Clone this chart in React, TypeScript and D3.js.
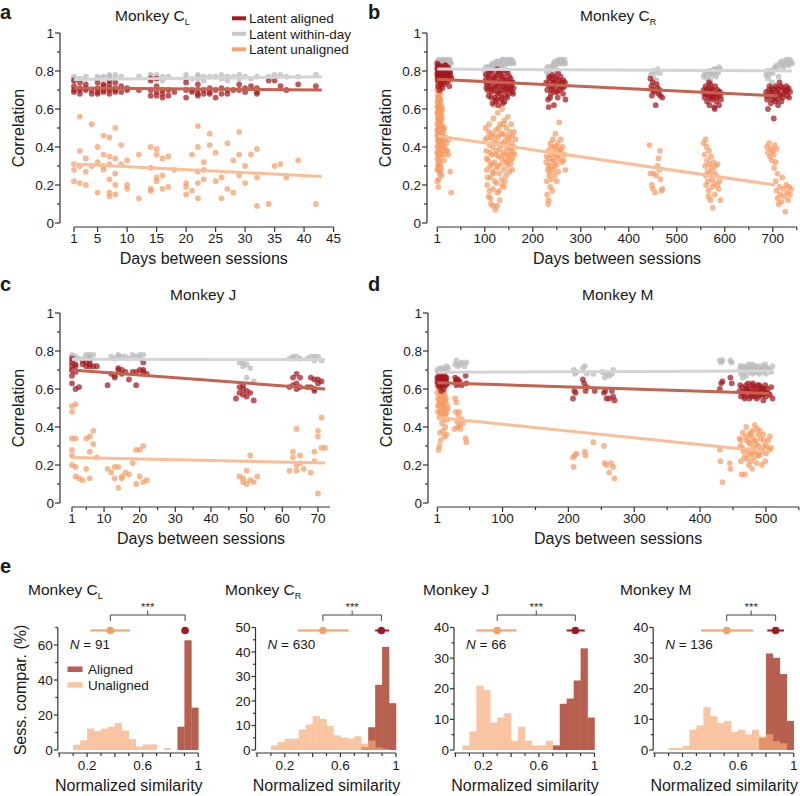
import React from "react";
import * as d3 from "d3";

type Pt = [number, number];

const FONT = "'Liberation Sans', Arial, Helvetica, sans-serif";
const AX = "#333";

// scatter colours
const DOT_AL = "#a3191e";
const DOT_WD = "#b9bbbd";
const DOT_UN = "#f59a63";
const LINE_AL = "#c46450";
const LINE_WD = "#d3d4d5";
const LINE_UN = "#fbbd95";

// histogram colours
const BAR_AL = "#b8604f";
const BAR_UN = "#f8a977";
const MEAN_AL = "#a11a22";
const MEAN_UN = "#f7a063";

// ---------- Monkey C_L (panel a) ----------
const clAligned: Pt[] = [
  [1, .75], [1, .72], [1, .70], [1, .69], [2, .74], [2, .71], [2, .70], [2, .68], [3, .73], [3, .71], [3, .70],
  [4, .70], [4, .68], [5, .74], [5, .71], [5, .69], [5, .68], [6, .73], [6, .72], [6, .70], [6, .69],
  [7, .75], [7, .73], [7, .71], [7, .70], [7, .68], [8, .74], [8, .71], [8, .70], [8, .69], [9, .72], [9, .69],
  [10, .71], [10, .70], [12, .70], [14, .76], [14, .75], [14, .70], [14, .67], [15, .76], [15, .72], [15, .69], [15, .67],
  [16, .70], [16, .68], [16, .66], [17, .70], [17, .67], [18, .69], [20, .74], [20, .70], [20, .66], [21, .70], [21, .69],
  [22, .73], [22, .70], [22, .68], [22, .67], [23, .70], [23, .68], [24, .71], [24, .69], [24, .68], [25, .70], [25, .66],
  [26, .71], [26, .68], [27, .70], [27, .68], [28, .70], [29, .73], [29, .70], [30, .71], [30, .69], [31, .72],
  [32, .71], [32, .69], [32, .68], [34, .75], [35, .75], [36, .72], [37, .70], [39, .73], [42, .72],
];
const clWithin: Pt[] = [
  [1, .77], [1, .75], [2, .76], [3, .77], [5, .77], [5, .76], [6, .77], [6, .76], [7, .78], [7, .77], [7, .75],
  [8, .78], [8, .76], [9, .77], [12, .77], [14, .78], [14, .77], [15, .78], [15, .76], [16, .77], [16, .75], [17, .77],
  [20, .78], [20, .76], [21, .76], [22, .78], [22, .77], [22, .76], [23, .77], [23, .75], [24, .77], [25, .77],
  [26, .78], [26, .76], [27, .77], [27, .75], [28, .77], [29, .78], [29, .76], [30, .77], [31, .76], [32, .77],
  [34, .77], [35, .78], [36, .78], [37, .77], [39, .77], [42, .78],
];
const clUnaligned: Pt[] = [
  [1, .31], [1, .28], [1, .22], [2, .56], [2, .38], [2, .30], [2, .21], [3, .34], [3, .27], [3, .20], [4, .52], [4, .30],
  [5, .40], [5, .32], [5, .16], [6, .46], [6, .36], [6, .30], [6, .28], [7, .45], [7, .35], [7, .31], [7, .23], [7, .16], [7, .14],
  [8, .50], [8, .34], [8, .26], [8, .20], [8, .15], [9, .41], [9, .31], [10, .33], [10, .20], [10, .18], [12, .36], [12, .13],
  [14, .40], [14, .29], [14, .18], [14, .17], [15, .39], [15, .36], [15, .24], [15, .22], [16, .34], [16, .25], [16, .18],
  [17, .35], [17, .19], [18, .28], [20, .21], [20, .19], [20, .15], [21, .36], [21, .17], [22, .51], [22, .40], [22, .27],
  [22, .21], [22, .13], [23, .32], [23, .28], [23, .23], [24, .47], [24, .41], [25, .37], [25, .22], [26, .24], [26, .13],
  [27, .42], [27, .18], [28, .33], [28, .16], [29, .48], [29, .36], [29, .25], [30, .30], [30, .21], [31, .36], [32, .39],
  [32, .24], [32, .09], [34, .10], [35, .30], [36, .31], [37, .24], [39, .33], [42, .10],
];
const clFitAligned: Pt[] = [[1, .71], [43, .70]];
const clFitWithin: Pt[] = [[1, .755], [43, .77]];
const clFitUnaligned: Pt[] = [[1, .31], [43, .245]];

// ---------- Monkey C_R (panel b) ----------
const crAligned: Pt[] = [
  [1, .84], [2, .82], [3, .80], [1, .78], [4, .77], [2, .75], [5, .83], [6, .81], [7, .79], [8, .78], [9, .76], [10, .74],
  [11, .82], [12, .80], [13, .77], [14, .75], [15, .73], [16, .81], [17, .79], [18, .78], [19, .76], [20, .74], [21, .80],
  [22, .78], [24, .77], [25, .75], [26, .72], [28, .79], [30, .76], [3, .72], [6, .70], [8, .73], [12, .71], [18, .83],
  [23, .82], [27, .80], [4, .80], [2, .79],
  [1, .81], [2, .77], [3, .83], [5, .79], [6, .76], [7, .82], [9, .80], [10, .78], [11, .77], [13, .81], [14, .79],
  [16, .76], [17, .83], [19, .80], [20, .78], [21, .76], [23, .79], [25, .81], [26, .78], [29, .77],
  [102, .78], [105, .74], [106, .70], [108, .67], [110, .76], [112, .72], [114, .69], [115, .80], [118, .75], [120, .71],
  [121, .66], [122, .64], [124, .78], [125, .73], [127, .69], [128, .62], [130, .76], [131, .72], [133, .68], [134, .65],
  [136, .80], [137, .74], [139, .70], [140, .77], [142, .73], [143, .67], [145, .75], [146, .71], [148, .79], [149, .68],
  [150, .74], [152, .70], [154, .76], [155, .72], [157, .69], [158, .74], [160, .71], [116, .63], [126, .81], [138, .63],
  [111, .79], [119, .77], [132, .79], [144, .80], [135, .66], [103, .71], [141, .64],
  [101, .75], [104, .73], [107, .77], [109, .71], [113, .74], [117, .70], [120, .76], [123, .72], [126, .68], [129, .74],
  [132, .70], [135, .77], [138, .72], [141, .75], [144, .70], [147, .73], [151, .77], [153, .71], [156, .74], [159, .68],
  [113, .66], [125, .65], [147, .66], [107, .80], [129, .79],
  [228, .74], [230, .70], [232, .65], [233, .61], [235, .77], [237, .72], [238, .68], [240, .75], [242, .71], [244, .62],
  [245, .74], [247, .69], [249, .76], [250, .72], [252, .66], [254, .73], [256, .70], [258, .77], [260, .74], [262, .71],
  [264, .75], [266, .72], [268, .65], [241, .78], [253, .79], [236, .66],
  [231, .73], [234, .76], [239, .70], [243, .74], [246, .77], [251, .69], [255, .75], [259, .72], [263, .68], [267, .74],
  [445, .76], [447, .72], [448, .67], [450, .74], [452, .70], [454, .69], [456, .62], [458, .73], [460, .71], [462, .68],
  [464, .70], [466, .67], [470, .66], [449, .70],
  [556, .70], [558, .66], [560, .72], [561, .68], [563, .64], [565, .71], [566, .67], [568, .62], [570, .73], [571, .69],
  [573, .65], [575, .70], [576, .66], [578, .61], [580, .72], [581, .68], [583, .64], [585, .70], [586, .67], [588, .62],
  [590, .69], [592, .65], [567, .74], [579, .60], [574, .67],
  [557, .68], [562, .70], [569, .66], [572, .71], [577, .68], [582, .66], [587, .69], [591, .67],
  [686, .69], [688, .65], [690, .60], [692, .70], [694, .67], [696, .63], [698, .71], [700, .68], [702, .55], [704, .66],
  [706, .72], [708, .69], [710, .65], [712, .70], [714, .74], [716, .67], [718, .64], [720, .71], [722, .68], [725, .70],
  [728, .72], [730, .67], [733, .71], [736, .69], [699, .65], [711, .62],
  [687, .67], [693, .72], [697, .69], [701, .70], [705, .64], [709, .71], [713, .68], [717, .72], [721, .66], [726, .69],
  [731, .70], [734, .66],
];
const crWithin: Pt[] = [
  [2, .85], [5, .84], [8, .83], [10, .85], [12, .86], [15, .84], [18, .85], [20, .83], [22, .86], [25, .84], [28, .85],
  [14, .81], [6, .82], [24, .82], [1, .84], [4, .86], [7, .85], [11, .84], [16, .86], [19, .84], [23, .85], [27, .86], [30, .84],
  [100, .80], [103, .78], [106, .82], [110, .80], [114, .83], [118, .81], [122, .84], [126, .82], [130, .85], [134, .83],
  [138, .86], [142, .84], [146, .85], [150, .86], [154, .84], [158, .85], [108, .77], [128, .80], [140, .82],
  [102, .82], [112, .82], [116, .84], [120, .83], [124, .85], [132, .84], [136, .86], [144, .86], [148, .84], [152, .85],
  [156, .86], [160, .84],
  [228, .80], [232, .78], [236, .82], [240, .81], [244, .84], [248, .83], [252, .85], [256, .84], [260, .86], [264, .85],
  [268, .84], [238, .77], [250, .80], [230, .82], [234, .80], [242, .83], [246, .85], [254, .86], [258, .85], [262, .84], [266, .86],
  [446, .78], [450, .80], [455, .79], [460, .81], [465, .79], [452, .76], [458, .75],
  [556, .77], [560, .79], [564, .76], [568, .78], [572, .80], [576, .79], [580, .81], [584, .80], [588, .82], [570, .75], [582, .77],
  [558, .78], [566, .80], [574, .78], [578, .81], [586, .79], [590, .81],
  [686, .78], [690, .76], [695, .80], [700, .79], [705, .82], [710, .81], [715, .84], [720, .83], [725, .85], [730, .84],
  [735, .86], [740, .84], [698, .74], [712, .77], [688, .80], [692, .78], [702, .81], [708, .83], [718, .85], [722, .82],
  [728, .86], [733, .83], [738, .85],
];
const crUnaligned: Pt[] = [
  [1, .82], [1, .76], [1, .70], [1, .64], [1, .58], [1, .52], [1, .46], [1, .40], [1, .34], [2, .79], [2, .73], [2, .67],
  [2, .61], [2, .55], [2, .49], [2, .43], [2, .37], [2, .30], [3, .77], [3, .71], [3, .62], [3, .56], [3, .47], [3, .41],
  [3, .32], [3, .19], [4, .74], [4, .66], [4, .59], [4, .50], [4, .44], [4, .35], [4, .28], [5, .78], [5, .69], [5, .63],
  [5, .53], [5, .45], [5, .38], [5, .30], [6, .72], [6, .60], [6, .51], [6, .42], [6, .33], [6, .26], [7, .68], [7, .57],
  [7, .48], [7, .39], [7, .31], [8, .65], [8, .54], [8, .44], [8, .36], [8, .27], [9, .62], [9, .50], [9, .40], [9, .29],
  [10, .58], [10, .47], [10, .36], [10, .25], [11, .55], [12, .50], [12, .42], [13, .38], [14, .48], [15, .44], [15, .33],
  [16, .40], [17, .36], [18, .45], [20, .42], [22, .38], [25, .44], [28, .27], [30, .16], [1, .22], [4, .23],
  [1, .79], [1, .61], [1, .49], [1, .37], [1, .28], [2, .70], [2, .58], [2, .46], [3, .74], [3, .65], [3, .53], [3, .44],
  [4, .71], [4, .62], [4, .54], [5, .75], [5, .66], [5, .58], [5, .49], [6, .69], [6, .55], [6, .46], [7, .64], [7, .52],
  [7, .43], [8, .60], [8, .49], [9, .56], [9, .45], [10, .52], [10, .41], [11, .47], [12, .60], [13, .45], [14, .40],
  [16, .50], [19, .38], [24, .36],
  [102, .50], [103, .38], [104, .28], [105, .20], [106, .45], [107, .33], [108, .14], [109, .52], [110, .41], [111, .30],
  [112, .24], [113, .10], [114, .47], [115, .36], [116, .27], [117, .18], [118, .55], [119, .43], [120, .32], [121, .22],
  [122, .07], [123, .49], [124, .38], [125, .29], [126, .16], [127, .58], [128, .45], [129, .35], [130, .26], [131, .12],
  [132, .52], [133, .41], [134, .31], [135, .23], [136, .60], [137, .47], [138, .37], [139, .28], [140, .19], [141, .54],
  [142, .43], [143, .33], [144, .25], [145, .50], [146, .39], [147, .30], [148, .56], [149, .44], [150, .35], [151, .27],
  [152, .48], [153, .38], [154, .31], [155, .52], [156, .42], [157, .34], [158, .46], [160, .40], [162, .36], [164, .44],
  [119, .62], [126, .09], [110, .17],
  [101, .44], [104, .34], [106, .24], [108, .48], [111, .37], [113, .45], [115, .31], [117, .40], [119, .26], [121, .46],
  [123, .36], [125, .42], [127, .30], [129, .50], [131, .39], [133, .47], [135, .34], [137, .42], [139, .52], [141, .36],
  [143, .46], [145, .32], [147, .41], [149, .36], [151, .45], [153, .33], [155, .40], [157, .28], [159, .37], [161, .48],
  [112, .13], [118, .09], [124, .21], [130, .17], [136, .20], [142, .22],
  [228, .32], [229, .22], [230, .15], [231, .28], [232, .38], [233, .12], [234, .25], [235, .34], [236, .19], [237, .42],
  [238, .30], [239, .23], [240, .36], [241, .17], [242, .44], [243, .28], [244, .33], [245, .40], [246, .25], [247, .47],
  [248, .36], [250, .31], [252, .42], [254, .38], [255, .53], [256, .34], [258, .44], [260, .37], [262, .40], [264, .33],
  [266, .36], [268, .28], [250, .22], [232, .10],
  [229, .35], [233, .30], [236, .27], [238, .40], [241, .33], [244, .37], [246, .30], [249, .40], [251, .35], [253, .27],
  [257, .39], [261, .32],
  [443, .41], [445, .26], [448, .20], [450, .18], [452, .26], [455, .16], [460, .30], [462, .34], [464, .28], [465, .38],
  [466, .23], [468, .17], [470, .18], [457, .25],
  [556, .42], [558, .36], [559, .30], [560, .25], [561, .20], [562, .40], [563, .33], [564, .27], [565, .22], [566, .17],
  [567, .38], [568, .31], [569, .26], [570, .12], [571, .35], [572, .29], [573, .23], [574, .19], [575, .08], [576, .32],
  [577, .27], [578, .21], [579, .15], [580, .30], [582, .25], [584, .20], [585, .31], [587, .18], [589, .22], [591, .12],
  [560, .44], [566, .14],
  [688, .40], [690, .37], [692, .42], [694, .35], [696, .39], [698, .33], [700, .38], [702, .36], [704, .41], [706, .32],
  [703, .29], [708, .39], [706, .22], [708, .17], [710, .13], [712, .10], [714, .19], [716, .15], [718, .11], [720, .24],
  [722, .18], [724, .14], [726, .06], [728, .20], [730, .16], [732, .12], [734, .19], [736, .15], [738, .18], [710, .26],
];
const crFitAligned: Pt[] = [[1, .756], [705, .67]];
const crFitWithin: Pt[] = [[1, .81], [740, .80]];
const crFitUnaligned: Pt[] = [[1, .458], [705, .20]];

// ---------- Monkey J (panel c) ----------
const jAligned: Pt[] = [
  [1, .76], [1, .74], [1, .72], [1, .70], [1, .67], [1, .63], [2, .73], [2, .72], [2, .69], [2, .60], [3, .61], [4, .75],
  [4, .73], [5, .74], [5, .72], [6, .75], [6, .73], [6, .72], [7, .72], [8, .72], [11, .62], [12, .68], [13, .67], [13, .66],
  [14, .71], [14, .70], [15, .70], [15, .68], [16, .69], [17, .65], [18, .69], [19, .62], [19, .69], [20, .70], [21, .74],
  [21, .70], [21, .69], [22, .68], [47, .55], [48, .61], [48, .58], [49, .62], [49, .60], [49, .57], [50, .59], [50, .56],
  [51, .58], [52, .54], [62, .61], [63, .66], [63, .62], [64, .68], [64, .63], [64, .60], [65, .66], [65, .61], [67, .61],
  [68, .66], [68, .61], [69, .65], [69, .60], [69, .59], [70, .65], [70, .63], [71, .64],
];
const jWithin: Pt[] = [
  [1, .78], [1, .77], [1, .75], [1, .70], [2, .77], [2, .76], [3, .76], [5, .78], [5, .77], [6, .78], [6, .77], [7, .78],
  [12, .77], [13, .76], [14, .78], [14, .77], [15, .77], [16, .77], [17, .76], [18, .78], [19, .77], [20, .78], [20, .76],
  [21, .78], [48, .74], [49, .74], [49, .72], [50, .73], [50, .66], [51, .71], [52, .64], [62, .76], [63, .77], [63, .76],
  [64, .77], [65, .76], [67, .76], [68, .77], [69, .77], [69, .75], [70, .77], [71, .75],
];
const jUnaligned: Pt[] = [
  [1, .51], [1, .48], [1, .34], [1, .28], [1, .25], [1, .20], [2, .52], [2, .34], [2, .19], [2, .14], [3, .13], [4, .12],
  [5, .34], [5, .18], [6, .35], [6, .27], [6, .13], [7, .38], [7, .31], [8, .24], [11, .18], [12, .16], [13, .19], [13, .13],
  [14, .19], [14, .08], [15, .14], [15, .13], [16, .16], [17, .15], [18, .21], [19, .28], [19, .10], [20, .28], [20, .14],
  [21, .30], [21, .11], [22, .12], [48, .14], [49, .13], [49, .11], [50, .17], [50, .10], [51, .25], [51, .12], [52, .11],
  [53, .14], [62, .17], [63, .27], [63, .24], [64, .39], [64, .20], [64, .17], [65, .25], [65, .21], [66, .18], [68, .16],
  [69, .27], [69, .22], [70, .38], [70, .35], [70, .05], [71, .45], [71, .29], [72, .29],
];
const jFitAligned: Pt[] = [[1, .70], [72, .60]];
const jFitWithin: Pt[] = [[1, .757], [72, .755]];
const jFitUnaligned: Pt[] = [[1, .24], [72, .21]];

// ---------- Monkey M (panel d) ----------
const mAligned: Pt[] = [
  [1, .66], [2, .63], [3, .65], [4, .61], [5, .67], [6, .64], [7, .62], [8, .66], [9, .63], [10, .65], [11, .60], [12, .67],
  [13, .64], [14, .62], [15, .66], [16, .63], [28, .66], [29, .64], [30, .62], [32, .65], [33, .63], [35, .64], [38, .62],
  [44, .67], [45, .63], [7, .59],
  [1, .64], [2, .66], [3, .62], [4, .65], [5, .63], [6, .66], [8, .64], [9, .66], [10, .62], [11, .65], [12, .63], [13, .66],
  [14, .65], [15, .63], [30, .65], [31, .64],
  [207, .55], [209, .59], [211, .58], [222, .65], [224, .63], [226, .59], [228, .61], [240, .59], [254, .58], [256, .59],
  [258, .55], [262, .55], [266, .59], [268, .56], [270, .54],
  [430, .60], [432, .63], [434, .64], [446, .66], [448, .63], [460, .59], [462, .56], [464, .61], [466, .58], [468, .55],
  [470, .62], [472, .59], [474, .57], [476, .60], [478, .56], [480, .63], [482, .58], [484, .61], [486, .55], [488, .59],
  [490, .62], [492, .57], [494, .60], [496, .54], [498, .58], [500, .56], [503, .58], [506, .57], [508, .61], [510, .55],
  [469, .60], [479, .62],
  [461, .62], [463, .58], [467, .56], [471, .60], [473, .63], [475, .55], [477, .58], [481, .60], [483, .56], [485, .58],
  [487, .62], [489, .56], [491, .59], [493, .61], [495, .57], [497, .60], [499, .62], [502, .60],
];
const mWithin: Pt[] = [
  [1, .70], [3, .69], [5, .71], [7, .70], [9, .69], [11, .71], [13, .70], [15, .72], [17, .71], [28, .73], [30, .75],
  [32, .72], [35, .73], [38, .74], [42, .72], [45, .74], [2, .68], [10, .67],
  [208, .70], [210, .68], [212, .69], [222, .71], [225, .72], [228, .68], [238, .68], [252, .69], [255, .66], [258, .68],
  [262, .67], [266, .68], [268, .70],
  [430, .75], [432, .74], [434, .75], [446, .75], [448, .74], [460, .70], [462, .68], [464, .72], [466, .69], [468, .71],
  [470, .67], [472, .70], [474, .73], [476, .69], [478, .71], [480, .68], [482, .72], [484, .70], [486, .69], [488, .71],
  [490, .68], [492, .70], [494, .72], [496, .69], [498, .71], [500, .68], [505, .70], [508, .69], [510, .72], [465, .66],
  [461, .72], [467, .70], [471, .72], [475, .70], [479, .73], [483, .69], [487, .72], [491, .70], [495, .70], [499, .73], [503, .71],
];
const mUnaligned: Pt[] = [
  [1, .62], [2, .55], [2, .48], [3, .52], [3, .28], [4, .30], [4, .45], [5, .57], [5, .37], [6, .50], [6, .33], [7, .60],
  [7, .47], [8, .53], [8, .42], [9, .56], [9, .46], [10, .51], [10, .38], [11, .58], [11, .44], [12, .49], [12, .35],
  [13, .54], [13, .40], [14, .47], [15, .52], [15, .36], [16, .44], [17, .50], [28, .55], [29, .48], [30, .53], [31, .43],
  [32, .40], [33, .46], [35, .41], [36, .39], [38, .44], [40, .42], [44, .34], [45, .32], [27, .39], [34, .48],
  [1, .58], [2, .51], [3, .60], [4, .54], [5, .48], [6, .56], [7, .53], [8, .58], [9, .50], [10, .55], [11, .52], [12, .57],
  [13, .47], [14, .55], [15, .49],
  [207, .24], [208, .19], [210, .25], [212, .26], [225, .27], [226, .25], [238, .32], [254, .30], [255, .21], [258, .20],
  [262, .16], [265, .21], [268, .19], [270, .13],
  [430, .28], [431, .22], [434, .11], [445, .21], [446, .18], [460, .34], [461, .30], [462, .22], [463, .15], [465, .37],
  [466, .27], [467, .24], [468, .15], [470, .40], [471, .33], [472, .28], [473, .25], [474, .20], [475, .36], [476, .31],
  [477, .26], [478, .22], [479, .18], [480, .38], [481, .29], [482, .24], [483, .41], [484, .33], [485, .27], [486, .21],
  [488, .36], [489, .30], [490, .25], [492, .34], [493, .28], [494, .20], [496, .36], [498, .30], [500, .26], [503, .33],
  [505, .28], [508, .29], [487, .39], [478, .35],
  [462, .33], [464, .29], [469, .35], [471, .23], [474, .32], [477, .37], [480, .27], [482, .33], [485, .31], [488, .25],
  [491, .38], [495, .27], [497, .33], [501, .30], [506, .35], [499, .22],
];
const mFitAligned: Pt[] = [[1, .633], [505, .577]];
const mFitWithin: Pt[] = [[1, .688], [510, .695]];
const mFitUnaligned: Pt[] = [[1, .45], [505, .27]];

// ---------- histograms (panel e), bins of 0.05 from 0 to 1, % of comparisons ----------
const clHistUnaligned = [0, 0, 3, 5.5, 12.2, 11, 12.2, 13.3, 15.4, 11, 6.3, 2, 3.2, 3.2, 0, 1.1, 0, 0, 0, 0];
const clHistAligned = [0, 0, 0, 0, 0, 0, 0, 0, 0, 0, 0, 0, 0, 0, 0, 0, 0, 13.3, 62.7, 24.2];
const crHistUnaligned = [0, 0, 1.9, 3.3, 4.6, 4.6, 8.4, 10.4, 13.8, 12.7, 9.8, 6, 5.1, 4.7, 5.6, 2.6, 3.9, 1, 0.5, 0];
const crHistAligned = [0, 0, 0, 0, 0, 0, 0, 0, 0, 0, 0, 0, 0, 0, 0, 1.2, 9.3, 26.6, 42.1, 19.1];
const jHistUnaligned = [0, 1.5, 6.1, 21, 19.6, 9, 10.6, 12, 3, 7.6, 3, 1.5, 1.5, 3, 0, 0, 0, 0, 0, 0];
const jHistAligned = [0, 0, 0, 0, 0, 0, 0, 0, 0, 0, 0, 0, 0, 0, 1.5, 15.1, 16.8, 22.7, 33.2, 10.6];
const mHistUnaligned = [0, 0, 0.65, 0.65, 1.4, 6.6, 8, 14, 11, 8.8, 9.5, 5.9, 6.6, 5.1, 6.6, 4.4, 5.2, 2.9, 2.2, 0];
const mHistAligned = [0, 0, 0, 0, 0, 0, 0, 0, 0, 0, 0, 0, 0, 0, 0, 4, 31.5, 30.1, 24.8, 9.5];

// mean and spread markers: [mean, low, high]
const clMeans = { un: [0.367, 0.224, 0.51], al: [0.905, 0.885, 0.925] };
const crMeans = { un: [0.474, 0.295, 0.66], al: [0.895, 0.85, 0.95] };
const jMeans = { un: [0.30, 0.15, 0.44], al: [0.862, 0.80, 0.93] };
const mMeans = { un: [0.518, 0.333, 0.709], al: [0.87, 0.81, 0.93] };

interface ScatterSpec {
  letter: string; lx: number; ly: number;
  title: string; sub?: string; tx: number; ty: number;
  axX: number; x0: number; kx: number; xMax: number;
  yB: number; xAxY: number;
  ticks: number[]; minor: number[];
  aligned: Pt[]; within: Pt[]; unaligned: Pt[];
  fitA: Pt[]; fitW: Pt[]; fitU: Pt[];
  legend?: boolean;
}

const Scatter = ({ s }: { s: ScatterSpec }) => {
  const x = d3.scaleLinear().domain([0, s.xMax]).range([s.x0, s.x0 + s.xMax * s.kx]);
  const y = d3.scaleLinear().domain([0, 1]).range([s.yB, s.yB - 190]);
  const line = d3.line<Pt>().x((d) => x(d[0])).y((d) => y(d[1]));
  const yMajor = [0, 0.2, 0.4, 0.6, 0.8, 1];
  const yMinor = [0.1, 0.3, 0.5, 0.7, 0.9];
  const dots = (pts: Pt[], fill: string, op: number) =>
    pts.map((d, i) => <circle key={i} cx={x(d[0])} cy={y(d[1])} r={2.9} fill={fill} fillOpacity={op} />);
  const xMid = (x(1) + x(s.xMax)) / 2;
  return (
    <g>
      <text x={s.lx} y={s.ly} fontSize={20} fontWeight="bold">{s.letter}</text>
      <text x={s.tx} y={s.ty} fontSize={15.5}>
        {s.title}
        {s.sub && <tspan fontSize={9} dy={4}>{s.sub}</tspan>}
      </text>
      {/* y axis */}
      <line x1={s.axX} x2={s.axX} y1={y(0)} y2={y(1)} stroke={AX} strokeWidth={1.2} />
      {yMajor.map((v) => (
        <g key={v}>
          <line x1={s.axX - 5} x2={s.axX} y1={y(v)} y2={y(v)} stroke={AX} strokeWidth={1.2} />
          <text x={s.axX - 6} y={y(v)} dy="0.35em" textAnchor="end" fontSize={13.5}>{String(+v.toFixed(1))}</text>
        </g>
      ))}
      {yMinor.map((v) => (
        <line key={v} x1={s.axX - 3} x2={s.axX} y1={y(v)} y2={y(v)} stroke={AX} strokeWidth={1.2} />
      ))}
      <text transform={`translate(${s.axX - 36},${y(0.5)}) rotate(-90)`} textAnchor="middle" fontSize={16}>Correlation</text>
      {/* x axis */}
      <line x1={x(1)} x2={x(s.xMax)} y1={s.xAxY} y2={s.xAxY} stroke={AX} strokeWidth={1.2} />
      {s.ticks.map((v) => (
        <g key={v}>
          <line x1={x(v)} x2={x(v)} y1={s.xAxY} y2={s.xAxY + 5} stroke={AX} strokeWidth={1.2} />
          <text x={x(v)} y={s.xAxY + 16} textAnchor="middle" fontSize={13.5}>{v}</text>
        </g>
      ))}
      {s.minor.map((v) => (
        <line key={v} x1={x(v)} x2={x(v)} y1={s.xAxY} y2={s.xAxY + 3} stroke={AX} strokeWidth={1.2} />
      ))}
      <text x={xMid} y={s.xAxY + 37} textAnchor="middle" fontSize={16}>Days between sessions</text>
      {/* points */}
      <g>{dots(s.within, DOT_WD, 0.75)}</g>
      <g>{dots(s.unaligned, DOT_UN, 0.7)}</g>
      <g>{dots(s.aligned, DOT_AL, 0.72)}</g>
      {/* fits */}
      <path d={line(s.fitU) || ""} stroke={LINE_UN} strokeWidth={3} fill="none" />
      <path d={line(s.fitW) || ""} stroke={LINE_WD} strokeWidth={3} fill="none" />
      <path d={line(s.fitA) || ""} stroke={LINE_AL} strokeWidth={3} fill="none" />
      {s.legend && (
        <g fontSize={13.5}>
          {[
            ["Latent aligned", "#a51c20"],
            ["Latent within-day", "#c6c7c8"],
            ["Latent unaligned", "#f8a472"],
          ].map(([t, c], i) => (
            <g key={t} transform={`translate(0,${18.3 + i * 15.5})`}>
              <line x1={232} x2={246} y1={0} y2={0} stroke={c} strokeWidth={4} />
              <text x={249} y={0} dy="0.35em">{t}</text>
            </g>
          ))}
        </g>
      )}
    </g>
  );
};

interface HistSpec {
  title: string; sub?: string; tx: number;
  x0: number; yMax: number; yMajor: number[]; yMinor: number[];
  n: number; un: number[]; al: number[];
  means: { un: number[]; al: number[] };
  first?: boolean;
}

const BIN = 0.05;
const Hist = ({ h }: { h: HistSpec }) => {
  const x = d3.scaleLinear().domain([0, 1]).range([h.x0, h.x0 + 139]);
  const y = d3.scaleLinear().domain([0, h.yMax]).range([750, 627.5]);
  const bars = (vals: number[], fill: string, op: number) =>
    vals.map((v, i) =>
      v > 0 ? (
        <rect key={i} x={x(i * BIN)} width={x(BIN) - x(0) + 0.3} y={y(v)} height={y(0) - y(v)} fill={fill} fillOpacity={op} />
      ) : null
    );
  const mY = 630.5;
  const bY = 615;
  const xu = x(h.means.un[0]);
  const xa = x(h.means.al[0]);
  const axisX = x(0) - 1.5;
  const xAxY = 753;
  return (
    <g>
      <text x={h.tx} y={595} fontSize={15.5}>
        {h.title}
        {h.sub && <tspan fontSize={9} dy={4}>{h.sub}</tspan>}
      </text>
      {bars(h.al, BAR_AL, 1)}
      {bars(h.un, BAR_UN, 0.68)}
      {/* y axis */}
      <line x1={axisX} x2={axisX} y1={y(0)} y2={y(h.yMax)} stroke={AX} strokeWidth={1.2} />
      {h.yMajor.map((v) => (
        <g key={v}>
          <line x1={axisX - 4} x2={axisX} y1={y(v)} y2={y(v)} stroke={AX} strokeWidth={1.2} />
          <text x={axisX - 5} y={y(v)} dy="0.35em" textAnchor="end" fontSize={13.5}>{v}</text>
        </g>
      ))}
      {h.yMinor.map((v) => (
        <line key={v} x1={axisX - 2.5} x2={axisX} y1={y(v)} y2={y(v)} stroke={AX} strokeWidth={1.2} />
      ))}
      {/* x axis */}
      <line x1={axisX} x2={x(1)} y1={xAxY} y2={xAxY} stroke={AX} strokeWidth={1.2} />
      {d3.range(0, 11).map((i) => (
        <line key={i} x1={x(i / 10)} x2={x(i / 10)} y1={xAxY} y2={xAxY + (i % 2 === 0 ? 4 : 3)} stroke={AX} strokeWidth={1.2} />
      ))}
      {[0.2, 0.6, 1].map((v) => (
        <text key={v} x={x(v)} y={770} textAnchor="middle" fontSize={13.5}>{String(v)}</text>
      ))}
      <text x={x(0.5)} y={791} textAnchor="middle" fontSize={16}>Normalized similarity</text>
      {h.first && (
        <text transform={`translate(26,690) rotate(-90)`} textAnchor="middle" fontSize={16}>Sess. compar. (%)</text>
      )}
      {/* means with spread */}
      <line x1={x(h.means.un[1])} x2={x(h.means.un[2])} y1={mY} y2={mY} stroke={MEAN_UN} strokeWidth={2} />
      <circle cx={xu} cy={mY} r={3.8} fill={MEAN_UN} />
      <line x1={x(h.means.al[1])} x2={x(h.means.al[2])} y1={mY} y2={mY} stroke={MEAN_AL} strokeWidth={2} />
      <circle cx={xa} cy={mY} r={3.8} fill={MEAN_AL} />
      {/* significance bracket */}
      <path d={`M${xu},${bY + 6}V${bY}H${xa}V${bY + 6}`} stroke="#444" strokeWidth={1} fill="none" />
      <line x1={(xu + xa) / 2} x2={(xu + xa) / 2} y1={bY} y2={bY - 4.5} stroke="#444" strokeWidth={1} />
      <text x={(xu + xa) / 2} y={611} textAnchor="middle" fontSize={11.5} fill="#333">***</text>
      <text x={x(0) + 10.5} y={649} fontSize={13.5}>
        <tspan fontStyle="italic">N</tspan> = {h.n}
      </text>
      {h.first && (
        <g fontSize={13.5}>
          <rect x={67.5} y={666.5} width={15} height={5.5} fill={BAR_AL} />
          <text x={88} y={669.3} dy="0.35em">Aligned</text>
          <rect x={67.5} y={682.2} width={15} height={5.5} fill={BAR_UN} fillOpacity={0.68} />
          <text x={88} y={685} dy="0.35em">Unaligned</text>
        </g>
      )}
    </g>
  );
};

const scatters: ScatterSpec[] = [
  {
    letter: "a", lx: 0, ly: 19, title: "Monkey C", sub: "L", tx: 115, ty: 21,
    axX: 60, x0: 68.1, kx: 5.9, xMax: 45, yB: 223, xAxY: 227,
    ticks: [1, 5, 10, 15, 20, 25, 30, 35, 40, 45], minor: [],
    aligned: clAligned, within: clWithin, unaligned: clUnaligned,
    fitA: clFitAligned, fitW: clFitWithin, fitU: clFitUnaligned, legend: true,
  },
  {
    letter: "b", lx: 368, ly: 19, title: "Monkey C", sub: "R", tx: 580, ty: 21,
    axX: 427, x0: 436.8, kx: 0.48, xMax: 750, yB: 223, xAxY: 227,
    ticks: [1, 100, 200, 300, 400, 500, 600, 700], minor: [50, 150, 250, 350, 450, 550, 650, 750],
    aligned: crAligned, within: crWithin, unaligned: crUnaligned,
    fitA: crFitAligned, fitW: crFitWithin, fitU: crFitUnaligned,
  },
  {
    letter: "c", lx: 0, ly: 291, title: "Monkey J", tx: 170, ty: 300,
    axX: 60, x0: 68.4, kx: 3.565, xMax: 73.4, yB: 503, xAxY: 507,
    ticks: [1, 10, 20, 30, 40, 50, 60, 70], minor: [5, 15, 25, 35, 45, 55, 65],
    aligned: jAligned, within: jWithin, unaligned: jUnaligned,
    fitA: jFitAligned, fitW: jFitWithin, fitU: jFitUnaligned,
  },
  {
    letter: "d", lx: 368, ly: 291, title: "Monkey M", tx: 582, ty: 300,
    axX: 428, x0: 436.7, kx: 0.6585, xMax: 550, yB: 503, xAxY: 507,
    ticks: [1, 100, 200, 300, 400, 500], minor: [50, 150, 250, 350, 450, 550],
    aligned: mAligned, within: mWithin, unaligned: mUnaligned,
    fitA: mFitAligned, fitW: mFitWithin, fitU: mFitUnaligned,
  },
];

const hists: HistSpec[] = [
  { title: "Monkey C", sub: "L", tx: 28, x0: 59.3, yMax: 70, yMajor: [0, 20, 40, 60], yMinor: [10, 30, 50, 70],
    n: 91, un: clHistUnaligned, al: clHistAligned, means: clMeans, first: true },
  { title: "Monkey C", sub: "R", tx: 225, x0: 257, yMax: 50, yMajor: [0, 10, 20, 30, 40, 50], yMinor: [5, 15, 25, 35, 45],
    n: 630, un: crHistUnaligned, al: crHistAligned, means: crMeans },
  { title: "Monkey J", tx: 423, x0: 455.5, yMax: 40, yMajor: [0, 10, 20, 30, 40], yMinor: [5, 15, 25, 35],
    n: 66, un: jHistUnaligned, al: jHistAligned, means: jMeans },
  { title: "Monkey M", tx: 620, x0: 654.7, yMax: 40, yMajor: [0, 10, 20, 30, 40], yMinor: [5, 15, 25, 35],
    n: 136, un: mHistUnaligned, al: mHistAligned, means: mMeans },
];

export default function App() {
  return (
    <svg
      width={800}
      height={796}
      style={{ position: "absolute", left: 0, top: 0, background: "#fff" }}
      fontFamily={FONT}
      fill="#1a1a1a"
    >
      {scatters.map((s) => <Scatter key={s.letter} s={s} />)}
      <text x={0} y={573} fontSize={20} fontWeight="bold">e</text>
      {hists.map((h) => <Hist key={h.title + (h.sub || "")} h={h} />)}
    </svg>
  );
}
